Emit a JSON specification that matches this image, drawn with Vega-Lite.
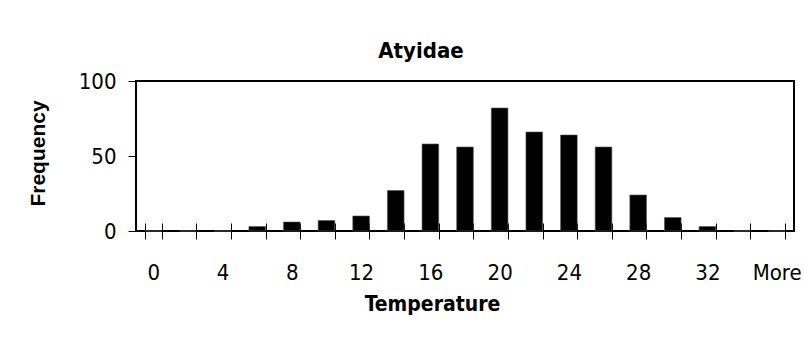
{
  "$schema": "https://vega.github.io/schema/vega-lite/v6.json",
  "autosize": {"type": "none"},
  "padding": {"left": 136, "top": 81, "right": 10, "bottom": 110},
  "width": 658,
  "height": 150,
  "background": "white",
  "title": {
    "text": "Atyidae",
    "font": "DejaVu Sans Condensed, Liberation Sans, sans-serif",
    "fontSize": 22,
    "fontWeight": "bold",
    "color": "black",
    "anchor": "middle",
    "dx": -44,
    "baseline": "alphabetic",
    "offset": -10
  },
  "data": {
    "values": [
      {"bin": "0", "count": 0},
      {"bin": "2", "count": 0},
      {"bin": "4", "count": 0},
      {"bin": "6", "count": 3},
      {"bin": "8", "count": 6},
      {"bin": "10", "count": 7},
      {"bin": "12", "count": 10},
      {"bin": "14", "count": 27},
      {"bin": "16", "count": 58},
      {"bin": "18", "count": 56},
      {"bin": "20", "count": 82},
      {"bin": "22", "count": 66},
      {"bin": "24", "count": 64},
      {"bin": "26", "count": 56},
      {"bin": "28", "count": 24},
      {"bin": "30", "count": 9},
      {"bin": "32", "count": 3},
      {"bin": "34", "count": 0},
      {"bin": "More", "count": 0}
    ]
  },
  "layer": [
    {
      "mark": {"type": "bar", "color": "black", "stroke": "#555555", "strokeWidth": 0.6},
      "encoding": {
        "x": {
          "field": "bin",
          "type": "ordinal",
          "sort": null,
          "scale": {"paddingInner": 0.52, "paddingOuter": 0.26},
          "axis": {
            "orient": "bottom",
            "labelAngle": 0,
            "tickBand": "extent",
            "tickSize": 8,
            "labelPadding": 40,
            "labelBaseline": "alphabetic",
            "labelFont": "DejaVu Sans Condensed, Liberation Sans, sans-serif",
            "labelFontSize": 22,
            "labelOverlap": false,
            "labelFlush": false,
            "labelExpr": "datum.value == 'More' || toNumber(datum.value) % 4 == 0 ? datum.label : ''",
            "title": "Temperature",
            "titleFont": "DejaVu Sans Condensed, Liberation Sans, sans-serif",
            "titleFontSize": 21,
            "titleFontWeight": "bold",
            "titleX": 296,
            "titleY": 79,
            "titleAlign": "center",
            "titleBaseline": "alphabetic"
          }
        },
        "y": {
          "field": "count",
          "type": "quantitative",
          "scale": {"domain": [0, 100], "nice": false},
          "axis": {
            "values": [0, 50, 100],
            "tickSize": 8,
            "labelPadding": 12,
            "labelFont": "DejaVu Sans Condensed, Liberation Sans, sans-serif",
            "labelFontSize": 22,
            "title": "Frequency",
            "titleFont": "Liberation Sans",
            "titleFontSize": 21,
            "titleFontWeight": "bold",
            "titleAngle": -90,
            "titleX": -92,
            "titleY": 72,
            "titleAlign": "center",
            "titleBaseline": "alphabetic"
          }
        }
      }
    },
    {
      "mark": {"type": "bar", "opacity": 0},
      "encoding": {
        "x": {
          "field": "bin",
          "type": "ordinal",
          "sort": null,
          "axis": {
            "orient": "bottom",
            "tickBand": "extent",
            "tickSize": -8,
            "labels": false,
            "title": null,
            "domain": false
          }
        },
        "y": {"field": "count", "type": "quantitative"}
      }
    }
  ],
  "resolve": {"axis": {"x": "independent"}},
  "config": {
    "view": {"stroke": "black", "strokeWidth": 2},
    "axis": {
      "grid": false,
      "domain": false,
      "tickColor": "black",
      "tickWidth": 1,
      "labelColor": "black",
      "titleColor": "black"
    }
  }
}
